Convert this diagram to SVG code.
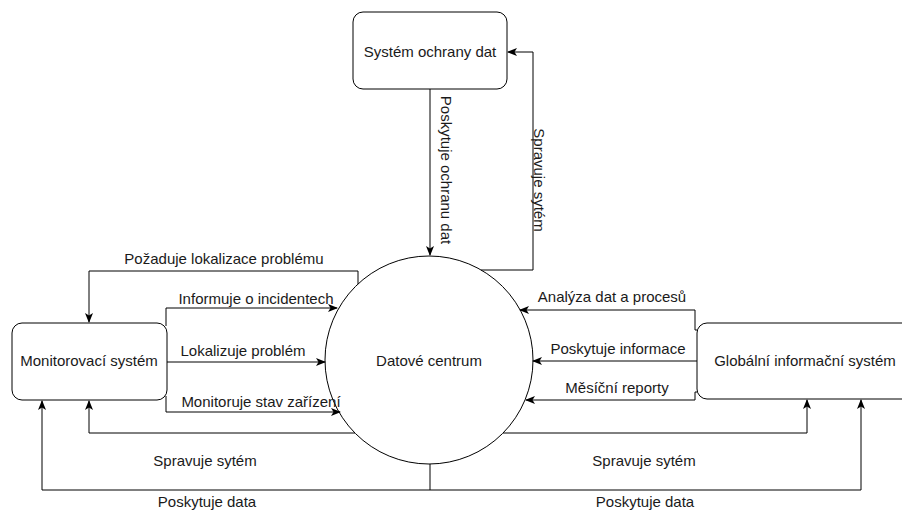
<svg xmlns="http://www.w3.org/2000/svg" width="902" height="511" viewBox="0 0 902 511">
  <style>
    .box { fill: #ffffff; stroke: #000000; stroke-width: 1; }
    .lbl { font-family: "Liberation Sans", Arial, sans-serif; font-size: 15px; fill: #1a1a1a; text-anchor: middle; }
    .edge { fill: none; stroke: #000000; stroke-width: 1; }
    .arr { marker-end: url(#head); }
  </style>
  <defs>
    <marker id="head" viewBox="0 0 10 8" refX="9" refY="4" markerWidth="10" markerHeight="8" markerUnits="userSpaceOnUse" orient="auto">
      <path d="M0,0 L10,4 L0,8 L2.5,4 Z" fill="#000000"/>
    </marker>
  </defs>
  <rect width="902" height="511" fill="#ffffff"/>

  <g id="system-ochrany-dat">
    <rect class="box" x="353" y="12" width="154" height="77" rx="10"/>
    <text class="lbl" x="430" y="57">Systém ochrany dat</text>
  </g>

  <g id="monitorovaci-system">
    <rect class="box" x="12" y="323" width="155" height="77" rx="10"/>
    <text class="lbl" x="89" y="366">Monitorovací systém</text>
  </g>

  <g id="globalni-informacni-system">
    <rect class="box" x="697" y="323" width="216" height="76" rx="10"/>
    <text class="lbl" x="805" y="366">Globální informační systém</text>
  </g>

  <g id="datove-centrum">
    <circle class="box" cx="429" cy="360" r="104"/>
    <text class="lbl" x="429" y="366">Datové centrum</text>
  </g>

  <!-- connectors and their labels, drawn over the nodes -->
  <g id="connectors">
    <path class="edge arr" d="M430,89 V255"/>
    <path class="edge arr" d="M481,270 H533 V52 H508"/>
    <path class="edge arr" d="M358,284 V271 H89 V322"/>
    <path class="edge arr" d="M166,326 V308 H337"/>
    <path class="edge arr" d="M167,362 H325"/>
    <path class="edge arr" d="M166,396 V412 H340"/>
    <path class="edge arr" d="M697,330 H695 V310 H520"/>
    <path class="edge arr" d="M697,361 H533"/>
    <path class="edge arr" d="M697,392 H695 V400 H526"/>
    <path class="edge arr" d="M355,433 H89 V401"/>
    <path class="edge arr" d="M503,433 H807 V400"/>
    <path class="edge arr" d="M430,464 V490 H42 V401"/>
    <path class="edge arr" d="M430,490 H861 V400"/>

    <text class="lbl" transform="translate(441,170) rotate(90)" x="0" y="0">Poskytuje ochranu dat</text>
    <text class="lbl" transform="translate(534,180) rotate(90)" x="0" y="0">Spravuje sytém</text>
    <text class="lbl" x="224" y="264">Požaduje lokalizace problému</text>
    <text class="lbl" x="256" y="304">Informuje o incidentech</text>
    <text class="lbl" x="243" y="356">Lokalizuje problém</text>
    <text class="lbl" x="261" y="407">Monitoruje stav zařízení</text>
    <text class="lbl" x="612" y="302">Analýza dat a procesů</text>
    <text class="lbl" x="618" y="354">Poskytuje informace</text>
    <text class="lbl" x="617" y="393">Měsíční reporty</text>
    <text class="lbl" x="205" y="466">Spravuje sytém</text>
    <text class="lbl" x="644" y="466">Spravuje sytém</text>
    <text class="lbl" x="207" y="507">Poskytuje data</text>
    <text class="lbl" x="645" y="507">Poskytuje data</text>
  </g>
</svg>
